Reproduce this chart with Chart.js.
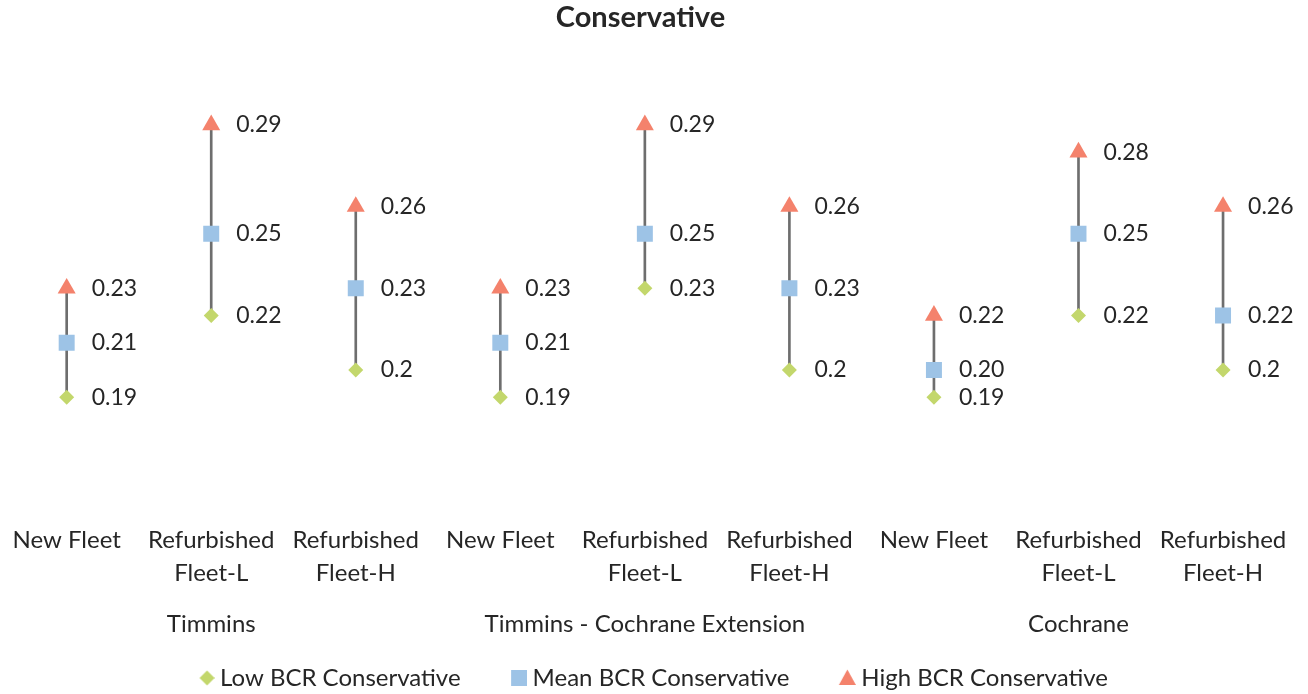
<!DOCTYPE html>
<html>
<head>
<meta charset="utf-8">
<title>Conservative</title>
<script src="https://cdn.jsdelivr.net/npm/chart.js@4.4.1/dist/chart.umd.min.js"></script>
<style>
  html, body { margin: 0; padding: 0; background: #ffffff; }
  #wrap { width: 1308px; height: 694px; position: relative; }
</style>
</head>
<body>
<div id="wrap"><canvas id="chart"></canvas></div>
<script>
// Categories (two-line tick labels) and the region each block of three belongs to
const categories = [
  ['New Fleet'], ['Refurbished', 'Fleet-L'], ['Refurbished', 'Fleet-H'],
  ['New Fleet'], ['Refurbished', 'Fleet-L'], ['Refurbished', 'Fleet-H'],
  ['New Fleet'], ['Refurbished', 'Fleet-L'], ['Refurbished', 'Fleet-H']
];
const groups = ['Timmins', 'Timmins - Cochrane Extension', 'Cochrane'];
const groupCenters = [1, 4, 7];

// Benefit-cost ratios, conservative scenario
const lowBCR  = [0.19, 0.22, 0.20, 0.19, 0.23, 0.20, 0.19, 0.22, 0.20];
const meanBCR = [0.21, 0.25, 0.23, 0.21, 0.25, 0.23, 0.20, 0.25, 0.22];
const highBCR = [0.23, 0.29, 0.26, 0.23, 0.29, 0.26, 0.22, 0.28, 0.26];

const FONT = 'Lato, "Open Sans", sans-serif';
const TEXT = '#262626';
const COLORS = { low: '#C3D76C', mean: '#9DC3E6', high: '#F4826C', range: '#6E6E6E' };

const X_MIN = -0.3831, X_MAX = 8.4010;

const pts = arr => arr.map((v, i) => ({ x: i, y: v }));

// Legend icons: marker sits at the right end of a wider transparent canvas
function legendIcon(shape, color) {
  const W = 48, H = 24;
  const c = document.createElement('canvas');
  c.width = W; c.height = H;
  const g = c.getContext('2d');
  g.fillStyle = color;
  g.beginPath();
  const cy = H / 2;
  if (shape === 'diamond') {
    const h = 7.5, cx = W - h;
    g.moveTo(cx, cy - h); g.lineTo(cx + h, cy); g.lineTo(cx, cy + h); g.lineTo(cx - h, cy);
  } else if (shape === 'square') {
    const h = 8, cx = W - h;
    g.rect(cx - h, cy - h, 2 * h, 2 * h);
  } else {
    const hw = 8.5, cx = W - hw;
    g.moveTo(cx, cy - 8.5); g.lineTo(cx + hw, cy + 7); g.lineTo(cx - hw, cy + 7);
  }
  g.closePath();
  g.fill();
  return c;
}
const legendIcons = [
  legendIcon('diamond', COLORS.low),
  legendIcon('square', COLORS.mean),
  legendIcon('triangle', COLORS.high)
];

// Value labels to the right of each marker
const valueLabels = {
  id: 'valueLabels',
  afterDatasetsDraw(chart) {
    const ctx = chart.ctx;
    ctx.save();
    ctx.font = '23px ' + FONT;
    ctx.fillStyle = TEXT;
    ctx.textAlign = 'left';
    ctx.textBaseline = 'middle';
    chart.data.datasets.forEach((ds, di) => {
      if (!ds.labelFormat) return;
      const meta = chart.getDatasetMeta(di);
      meta.data.forEach((el, i) => {
        ctx.fillText(ds.labelFormat(ds.data[i].y), el.x + 25, el.y);
      });
    });
    ctx.restore();
  }
};

// Keep the category axes spanning the full width
const noSidePadding = axis => { axis.paddingLeft = 0; axis.paddingRight = 0; };

new Chart(document.getElementById('chart'), {
  data: {
    datasets: [
      {
        type: 'scatter', label: 'Low BCR Conservative', data: pts(lowBCR), order: 1,
        pointStyle: 'rectRot', pointRadius: 7.5, pointHoverRadius: 7.5,
        backgroundColor: COLORS.low, borderColor: COLORS.low, borderWidth: 0,
        legendIndex: 0, labelFormat: v => String(v)
      },
      {
        type: 'scatter', label: 'Mean BCR Conservative', data: pts(meanBCR), order: 2,
        pointStyle: 'rect', pointRadius: 11.3, pointHoverRadius: 11.3,
        backgroundColor: COLORS.mean, borderColor: COLORS.mean, borderWidth: 0,
        legendIndex: 1, labelFormat: v => v.toFixed(2)
      },
      {
        type: 'scatter', label: 'High BCR Conservative', data: pts(highBCR), order: 3,
        pointStyle: 'triangle', pointRadius: 10.4, pointHoverRadius: 10.4,
        backgroundColor: COLORS.high, borderColor: COLORS.high, borderWidth: 0,
        legendIndex: 2, labelFormat: v => String(v)
      },
      {
        type: 'bar', label: 'range', order: 10,
        data: lowBCR.map((v, i) => ({ x: i, y: [v, highBCR[i]] })),
        backgroundColor: COLORS.range, barThickness: 2, borderWidth: 0
      }
    ]
  },
  options: {
    responsive: true,
    maintainAspectRatio: false,
    animation: false,
    layout: { padding: { left: 0, right: 27, top: 0, bottom: -6 } },
    scales: {
      x: {
        type: 'linear', position: 'bottom', min: X_MIN, max: X_MAX, weight: 0, offset: false,
        afterBuildTicks: axis => { axis.ticks = categories.map((c, i) => ({ value: i })); },
        afterFit: noSidePadding,
        ticks: {
          callback: v => categories[v],
          font: { family: FONT, size: 24, lineHeight: 1.375 },
          color: TEXT, padding: 17.5, maxRotation: 0, autoSkip: false
        },
        grid: { display: false, drawTicks: false, offset: false },
        border: { display: false }
      },
      xGroup: {
        type: 'linear', axis: 'x', position: 'bottom', min: X_MIN, max: X_MAX, weight: 1, offset: false,
        afterBuildTicks: axis => { axis.ticks = groupCenters.map(v => ({ value: v })); },
        afterFit: noSidePadding,
        ticks: {
          callback: v => groups[groupCenters.indexOf(v)],
          font: { family: FONT, size: 24, lineHeight: 1.4167 },
          color: TEXT, padding: 0, maxRotation: 0, autoSkip: false
        },
        grid: { display: false, drawTicks: false },
        border: { display: false }
      },
      y: { display: false, min: 0.15, max: 0.3205 }
    },
    plugins: {
      title: {
        display: true, text: 'Conservative', color: TEXT,
        font: { family: FONT, size: 29, weight: 'bold', lineHeight: 1.2 },
        padding: { top: 0.6, bottom: 6.6 }
      },
      legend: {
        display: true, position: 'bottom',
        labels: {
          usePointStyle: true, pointStyleWidth: 35, padding: 25,
          color: TEXT, font: { family: FONT, size: 24 },
          filter: item => item.datasetIndex !== 3,
          generateLabels: chart => Chart.defaults.plugins.legend.labels.generateLabels(chart)
            .map(item => {
              const ds = chart.data.datasets[item.datasetIndex];
              if (ds.legendIndex !== undefined) item.pointStyle = legendIcons[ds.legendIndex];
              return item;
            })
        }
      },
      tooltip: { enabled: false }
    }
  },
  plugins: [valueLabels]
});
</script>
</body>
</html>
